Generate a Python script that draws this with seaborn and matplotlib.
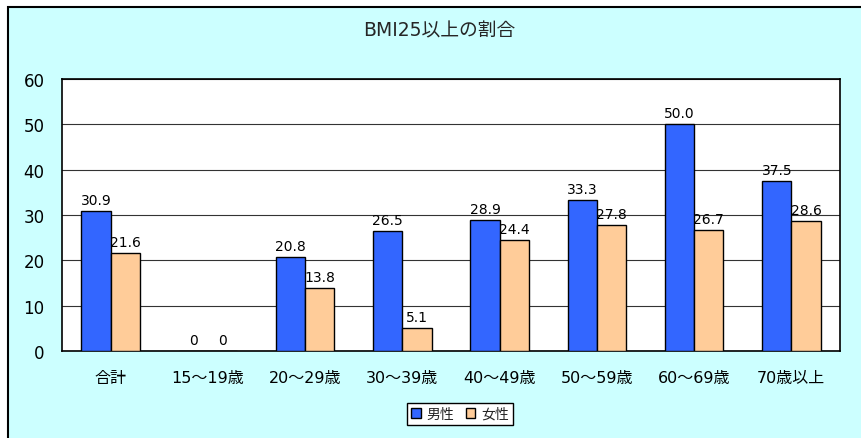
import matplotlib
matplotlib.use('Agg')
import matplotlib.pyplot as plt
import seaborn as sns
import pandas as pd
from matplotlib.patches import Rectangle

# Data
categories = ['合計', '15〜19歳', '20〜29歳', '30〜39歳', '40〜49歳', '50〜59歳', '60〜69歳', '70歳以上']
male = [30.9, 0, 20.8, 26.5, 28.9, 33.3, 50.0, 37.5]
female = [21.6, 0, 13.8, 5.1, 24.4, 27.8, 26.7, 28.6]
series = ['男性', '女性']
colors = ['#3366FF', '#FFCC99']

df = pd.DataFrame({
    'cat': categories * 2,
    'val': male + female,
    'sex': [series[0]] * len(categories) + [series[1]] * len(categories),
})

sns.set_theme(style='white')
plt.rcParams['font.family'] = ['DejaVu Sans', 'Noto Sans CJK JP']

fig = plt.figure(figsize=(8.61, 4.39), dpi=100)
fig.patch.set_facecolor('white')
# cyan chart area with black border (cut off on right and bottom)
bg = Rectangle((8 / 861, -0.1), 1.2, 1 - 8 / 439 + 0.1, transform=fig.transFigure,
               facecolor='#CCFFFF', edgecolor='black', linewidth=1.5, zorder=-10)
fig.add_artist(bg)

ax = fig.add_axes([62 / 861, 1 - 352 / 439, (840 - 62) / 861, (352 - 80) / 439])
ax.set_facecolor('white')

sns.barplot(data=df, x='cat', y='val', hue='sex', palette=colors, width=0.6, gap=0,
            edgecolor='black', linewidth=1, ax=ax, zorder=3, saturation=1)

for cont, vals in zip(ax.containers, [male, female]):
    labels = ['0' if v == 0 else f'{v:.1f}' for v in vals]
    ax.bar_label(cont, labels=labels, padding=3, fontsize=10, color='black')

ax.set_ylim(0, 60)
ax.set_yticks(range(0, 61, 10))
ax.set_xlim(-0.5, len(categories) - 0.5)
ax.yaxis.grid(True, color='#333333', linewidth=0.8, zorder=0)
ax.set_axisbelow(True)
ax.set_xlabel('')
ax.set_ylabel('')
ax.tick_params(axis='y', length=0, labelsize=12, pad=12.5, colors='black')
ax.tick_params(axis='x', which='major', length=0, labelsize=11.5, pad=14, colors='black')
ax.set_xticks([i + 0.5 for i in range(len(categories) - 1)], minor=True)
ax.tick_params(axis='x', which='minor', direction='in', length=4, width=0.8, color='#333333')
for s in ax.spines.values():
    s.set_color('black')
    s.set_linewidth(1.2)

fig.text(439 / 861, 1 - 31 / 439, 'BMI25以上の割合', ha='center', va='center', fontsize=13.5)

handles, labels = ax.get_legend_handles_labels()
ax.legend(handles, labels, loc='center', bbox_to_anchor=(460 / 861, 1 - 415 / 439),
          bbox_transform=fig.transFigure, ncol=2, frameon=True, fancybox=False,
          edgecolor='black', fontsize=10, handlelength=0.7, handleheight=0.7,
          handletextpad=0.4, columnspacing=0.8, borderpad=0.3, framealpha=1)

fig.savefig('out.png', dpi=100)
